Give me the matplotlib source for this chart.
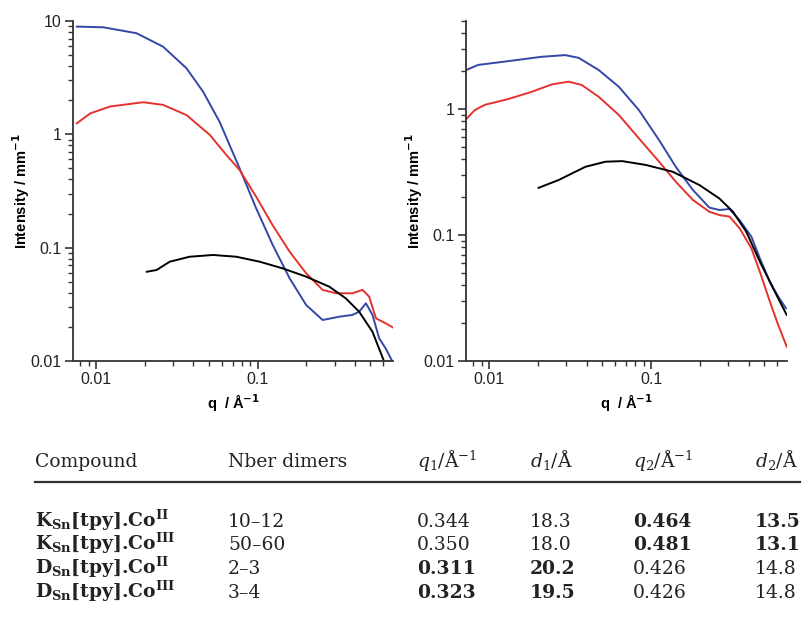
import numpy as np
import matplotlib
matplotlib.use("Agg")
import matplotlib.pyplot as plt
from matplotlib.ticker import LogLocator, FuncFormatter, NullFormatter

plt.rcParams['font.family'] = ['Liberation Sans', 'DejaVu Sans']

# ---- left panel ----
qL_blue = [0.0076, 0.0111, 0.0178, 0.026, 0.0363, 0.046, 0.0582, 0.0774, 0.098, 0.124,
           0.158, 0.2, 0.253, 0.321, 0.387, 0.426, 0.469, 0.515, 0.567, 0.622, 0.684]
IL_blue = [8.93, 8.8, 7.8, 5.94, 3.83, 2.38, 1.29, 0.502, 0.223, 0.106,
           0.0537, 0.0312, 0.023, 0.0246, 0.0255, 0.0272, 0.0323, 0.0255, 0.0158, 0.0129, 0.0099]

qL_red = [0.0076, 0.0092, 0.0122, 0.0196, 0.026, 0.0363, 0.0506, 0.0641, 0.0774, 0.098,
          0.124, 0.158, 0.2, 0.253, 0.306, 0.387, 0.447, 0.491, 0.541, 0.622, 0.70]
IL_red = [1.25, 1.53, 1.76, 1.92, 1.82, 1.48, 0.99, 0.658, 0.485, 0.282,
          0.158, 0.0922, 0.0594, 0.0424, 0.0396, 0.0396, 0.0424, 0.037, 0.0238, 0.0215, 0.0195]

qL_black = [0.0206, 0.0237, 0.0286, 0.038, 0.053, 0.0738, 0.103, 0.143, 0.2, 0.278,
            0.352, 0.426, 0.515, 0.608]
IL_black = [0.0613, 0.0635, 0.0752, 0.0832, 0.0862, 0.0832, 0.0752, 0.0657, 0.0555, 0.0453,
            0.0357, 0.0272, 0.0181, 0.0099]

# ---- right panel ----
qR_blue = [0.00723, 0.00855, 0.0131, 0.0211, 0.0295, 0.0357, 0.0475, 0.0633, 0.0841, 0.112,
           0.142, 0.181, 0.229, 0.264, 0.305, 0.352, 0.416, 0.469, 0.541, 0.609, 0.68]
IR_blue = [2.04, 2.24, 2.4, 2.6, 2.68, 2.55, 2.04, 1.5, 0.98, 0.567,
           0.348, 0.228, 0.165, 0.158, 0.161, 0.131, 0.097, 0.0653, 0.0426, 0.0324, 0.0262]

qR_red = [0.00723, 0.00815, 0.0094, 0.0131, 0.0183, 0.0244, 0.031, 0.0374, 0.0475, 0.0633,
          0.0841, 0.112, 0.142, 0.181, 0.229, 0.264, 0.305, 0.352, 0.416, 0.469, 0.541, 0.609, 0.687]
IR_red = [0.833, 0.98, 1.08, 1.2, 1.37, 1.57, 1.65, 1.55, 1.25, 0.896,
          0.585, 0.382, 0.265, 0.19, 0.153, 0.144, 0.14, 0.113, 0.0784, 0.0511, 0.0296, 0.0193, 0.013]

qR_black = [0.0202, 0.0268, 0.0393, 0.0523, 0.0664, 0.0927, 0.136, 0.199, 0.264, 0.32,
            0.387, 0.469, 0.566, 0.687]
IR_black = [0.237, 0.273, 0.348, 0.382, 0.386, 0.36, 0.318, 0.249, 0.195, 0.153,
            0.106, 0.0615, 0.0378, 0.0232]

# ---- table ----
col_headers = [r"Compound", r"Nber dimers", r"$q_1$/Å$^{-1}$", r"$d_1$/Å",
               r"$q_2$/Å$^{-1}$", r"$d_2$/Å"]
compounds = [r"K$_{\mathbf{Sn}}$[tpy].Co$^{\mathbf{II}}$",
             r"K$_{\mathbf{Sn}}$[tpy].Co$^{\mathbf{III}}$",
             r"D$_{\mathbf{Sn}}$[tpy].Co$^{\mathbf{II}}$",
             r"D$_{\mathbf{Sn}}$[tpy].Co$^{\mathbf{III}}$"]
n_dimers = ["10–12", "50–60", "2–3", "3–4"]
q1 = ["0.344", "0.350", "0.311", "0.323"]
d1 = ["18.3", "18.0", "20.2", "19.5"]
q2 = ["0.464", "0.481", "0.426", "0.426"]
d2 = ["13.5", "13.1", "14.8", "14.8"]
bold_first = [False, False, True, True]   # q1/d1 bold, else q2/d2 bold

W, H = 803, 642
fig = plt.figure(figsize=(W / 100, H / 100), dpi=100)

blue = '#3446a8'
red = '#e5322d'
ax_col = '#333333'


def style_axis(ax, ylim):
    ax.set_xscale('log')
    ax.set_yscale('log')
    ax.set_xlim(0.0072, 0.69)
    ax.set_ylim(*ylim)
    for s in ['top', 'right']:
        ax.spines[s].set_visible(False)
    for s in ['left', 'bottom']:
        ax.spines[s].set_color(ax_col)
        ax.spines[s].set_linewidth(1.3)
    ax.xaxis.set_major_locator(LogLocator(base=10))
    ax.xaxis.set_minor_locator(LogLocator(base=10, subs=np.arange(2, 10)))
    ax.yaxis.set_major_locator(LogLocator(base=10))
    ax.yaxis.set_minor_locator(LogLocator(base=10, subs=np.arange(2, 10)))
    fmt = FuncFormatter(lambda v, p: f"{v:g}")
    ax.xaxis.set_major_formatter(fmt)
    ax.yaxis.set_major_formatter(fmt)
    ax.xaxis.set_minor_formatter(NullFormatter())
    ax.yaxis.set_minor_formatter(NullFormatter())
    ax.tick_params(which='major', direction='out', length=6, width=1.2, color=ax_col,
                   labelsize=11.5, pad=2, labelcolor='#222222')
    ax.tick_params(which='minor', direction='out', length=3.5, width=1.0, color=ax_col)
    ax.set_xlabel(r"q  / Å$^{\mathbf{-1}}$", fontsize=10.5, fontweight='bold',
                  math_fontfamily='dejavusans')
    ax.set_ylabel(r"Intensity / mm$^{\mathbf{-1}}$", fontsize=10.5, fontweight='bold',
                  math_fontfamily='dejavusans')
    ax.xaxis.set_label_coords(0.5, -0.092)
    ax.yaxis.set_label_coords(-0.128, 0.5)


axL = fig.add_axes([73 / W, 1 - 361 / H, 320 / W, 340 / H])
axL.plot(qL_blue, IL_blue, color=blue, lw=1.4)
axL.plot(qL_red, IL_red, color=red, lw=1.4)
axL.plot(qL_black, IL_black, color='black', lw=1.4)
style_axis(axL, (0.01, 10))

axR = fig.add_axes([466 / W, 1 - 361 / H, 321 / W, 340 / H])
axR.plot(qR_blue, IR_blue, color=blue, lw=1.4)
axR.plot(qR_red, IR_red, color=red, lw=1.4)
axR.plot(qR_black, IR_black, color='black', lw=1.4)
style_axis(axR, (0.01, 5.0))

# table drawn as figure text
col_x = [35, 228, 417, 530, 633, 755]
header_y = 467
row_y = [527, 550, 574, 598]
tfont = dict(family='DejaVu Serif', fontsize=13.5, color='#222222', math_fontfamily='dejavuserif')

for x, h in zip(col_x, col_headers):
    fig.text(x / W, 1 - header_y / H, h, va='baseline', ha='left', **tfont)

fig.add_artist(plt.Line2D([35 / W, 800 / W], [1 - 482 / H, 1 - 482 / H],
                          color='#333333', lw=1.6))

for i, y in enumerate(row_y):
    cells = [compounds[i], n_dimers[i], q1[i], d1[i], q2[i], d2[i]]
    weights = ['bold', 'normal']
    if bold_first[i]:
        weights += ['bold', 'bold', 'normal', 'normal']
    else:
        weights += ['normal', 'normal', 'bold', 'bold']
    for x, c, w in zip(col_x, cells, weights):
        fig.text(x / W, 1 - y / H, c, va='baseline', ha='left', fontweight=w, **tfont)

fig.savefig('out.png', dpi=100)
